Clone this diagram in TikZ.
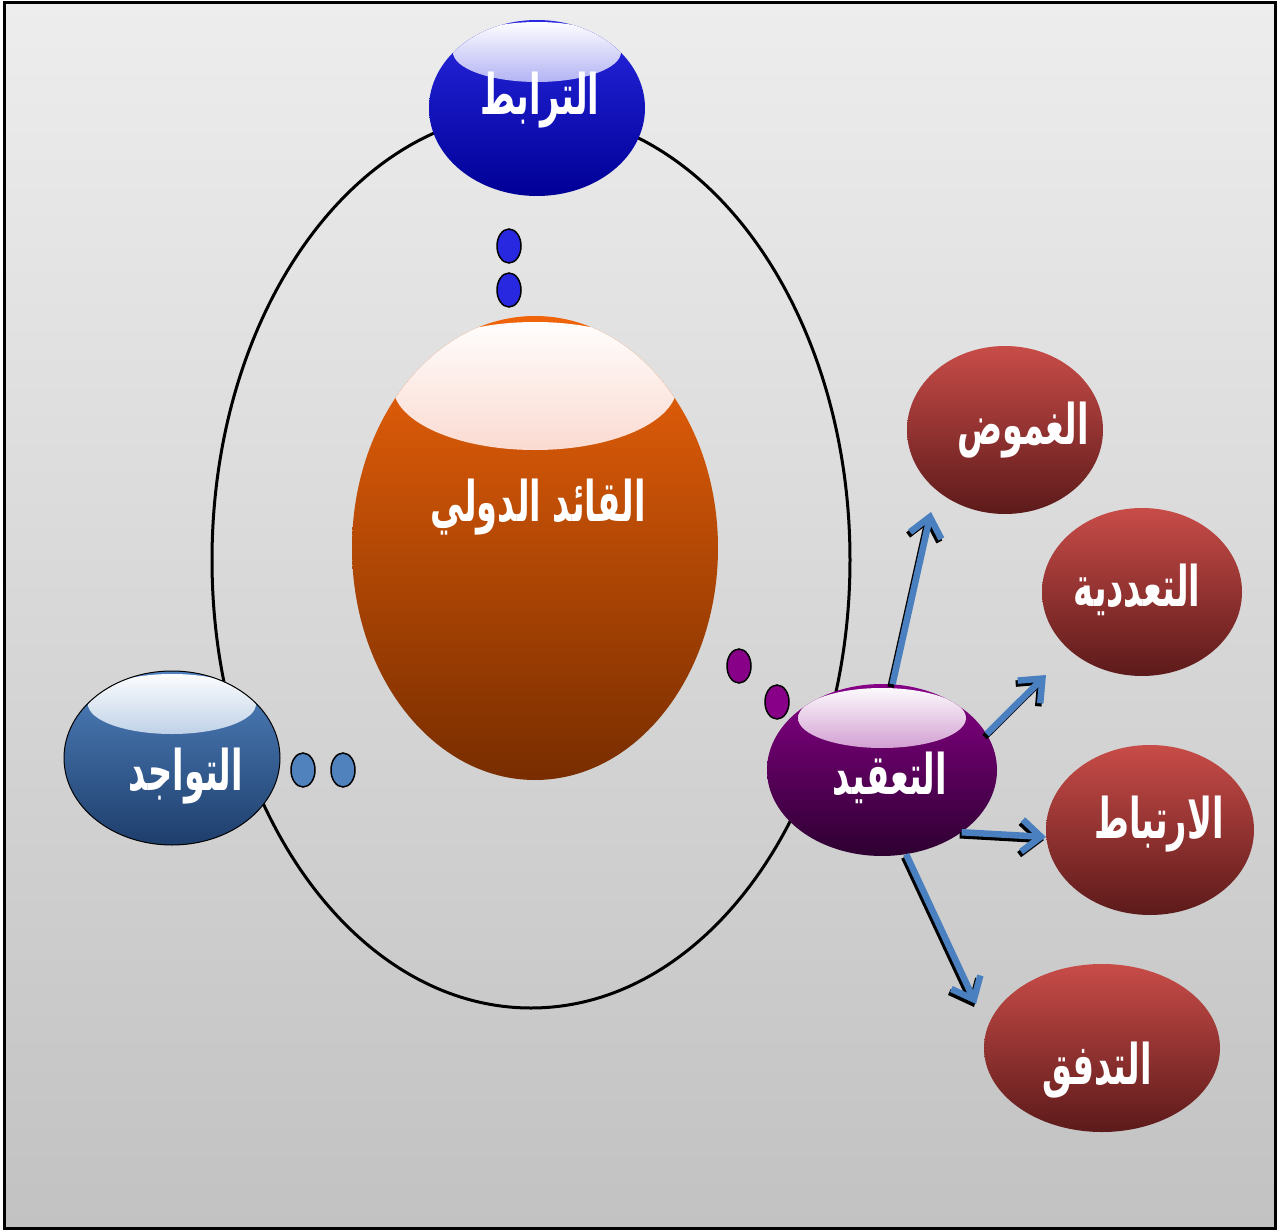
\documentclass[tikz,border=0pt]{standalone}
\usepackage{fontspec}
\usetikzlibrary{shapes.geometric,arrows.meta}
\TeXXeTstate=1
\newfontfamily\arabicfont[Script=Arabic,FakeStretch=0.6]{DejaVu Sans}
\definecolor{bgtop}{RGB}{237,237,237}
\definecolor{bgbot}{RGB}{194,194,194}
\definecolor{bluetop}{RGB}{40,40,225}
\definecolor{bluebot}{RGB}{0,0,150}
\definecolor{orangetop}{RGB}{240,100,10}
\definecolor{orangebot}{RGB}{120,45,0}
\definecolor{steeltop}{RGB}{80,130,190}
\definecolor{steelbot}{RGB}{30,62,108}
\definecolor{purpletop}{RGB}{135,0,135}
\definecolor{purplebot}{RGB}{45,0,48}
\definecolor{redtop}{RGB}{200,76,72}
\definecolor{redbot}{RGB}{92,26,26}
\definecolor{arrowblue}{RGB}{74,128,192}
\begin{document}
\begin{tikzpicture}[x=1pt,y=-1pt,
  bubble/.style={ellipse, inner sep=0pt},
  caption/.style={text=white, inner sep=0pt,
    font=\arabicfont\bfseries\fontsize{56}{62}\selectfont},
  gloss/.style 2 args={path picture={
    \shade[top color=white, bottom color=#1]
      ([yshift=#2]path picture bounding box.center)
      ellipse [x radius=84, y radius=30];}},
  dot/.style={ellipse, draw=black, line width=1.5pt, inner sep=0pt,
    minimum width=24, minimum height=34},
  link/.style={line width=6.5pt, line cap=butt,
    -{Straight Barb[length=19pt,width=32pt]}},
]
\useasboundingbox (0,0) rectangle (1278,1231);
\fill[white] (0,0) rectangle (1278,1231);
% frame with grey gradient
\draw[line width=3pt, top color=bgtop, bottom color=bgbot] (4,3) rectangle (1275,1228);

% orbit
\draw[line width=3pt] (531,560) ellipse [x radius=319, y radius=448];

% core
\node[bubble, minimum width=366, minimum height=464,
  top color=orangetop, bottom color=orangebot,
  path picture={\shade[top color=white, bottom color={rgb,255:red,240;green,128;blue,96}]
      ([yshift=162pt]path picture bounding box.center)
      ellipse [x radius=142, y radius=64];}] (core) at (535,548) {};
\node[caption] (coretext) at (538,507) {\beginR القائد الدولي\endR};

% satellites on the orbit
\node[bubble, minimum width=216, minimum height=176,
  top color=bluetop, bottom color=bluebot, gloss={bluetop}{56pt}] (bond) at (537,108) {};
\node[caption] (bondtext) at (540,100) {\beginR الترابط\endR};

\node[bubble, draw=black, line width=1pt, minimum width=216, minimum height=174,
  top color=steeltop, bottom color=steelbot, gloss={steeltop}{54pt}] (presence) at (172,758) {};
\node[caption] (presencetext) at (186,776) {\beginR التواجد\endR};

\node[bubble, minimum width=230, minimum height=172,
  top color=purpletop, bottom color=purplebot, gloss={purpletop}{52pt}] (complex) at (882,770) {};
\node[caption] (complextext) at (890,778) {\beginR التعقيد\endR};

% dots between the core and the satellites
\node[dot, fill=bluetop] (b1) at (509,246) {};
\node[dot, fill=bluetop] (b2) at (509,290) {};
\node[dot, fill=steeltop] (s1) at (303,770) {};
\node[dot, fill=steeltop] (s2) at (343,770) {};
\node[dot, fill=purpletop] (p1) at (739,666) {};
\node[dot, fill=purpletop] (p2) at (777,702) {};

% branches of complexity
\node[bubble, minimum width=196, minimum height=168,
  top color=redtop, bottom color=redbot] (ambig) at (1005,430) {};
\node[caption] (ambigtext) at (1023,430) {\beginR الغموض\endR};
\node[bubble, minimum width=200, minimum height=168,
  top color=redtop, bottom color=redbot] (plural) at (1142,592) {};
\node[caption] (pluraltext) at (1137,590) {\beginR التعددية\endR};
\node[bubble, minimum width=208, minimum height=170,
  top color=redtop, bottom color=redbot] (corr) at (1150,830) {};
\node[caption] (corrtext) at (1159,824) {\beginR الارتباط\endR};
\node[bubble, minimum width=236, minimum height=168,
  top color=redtop, bottom color=redbot] (flow) at (1102,1048) {};
\node[caption] (flowtext) at (1097,1070) {\beginR التدفق\endR};

\coordinate (t1) at (931,512);
\coordinate (t2) at (1046,675);
\coordinate (t3) at (1046,837);
\coordinate (t4) at (976,1004);

\foreach \a/\t in {83/t1, 19/t2, -38/t3, -74/t4}{
  \draw[link, black] ([xshift=-2pt,yshift=-3pt]complex.\a) -- ([xshift=-2pt,yshift=-3pt]\t);
  \draw[link, arrowblue] (complex.\a) -- (\t);
}
\end{tikzpicture}
\end{document}
